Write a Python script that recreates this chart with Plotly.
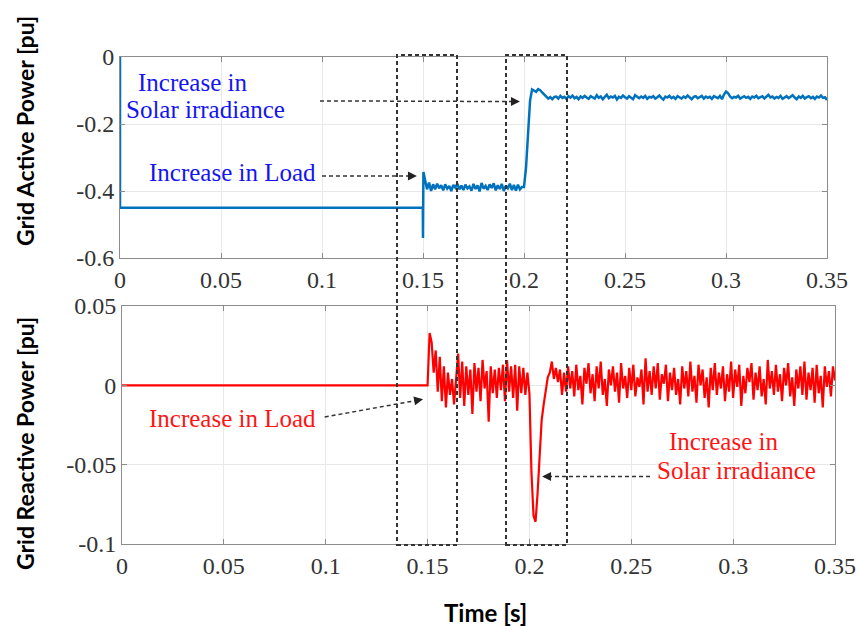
import numpy as np
import plotly.graph_objects as go

# ---------------- data ----------------
# Grid active power (top)
p_head_t = [0.0, 0.0, 0.1499, 0.1500, 0.1502]
p_head_v = [0.0, -0.45, -0.45, -0.54, -0.343]
p_noise_start = 0.151
p_noise_step = 0.001
p_noise_v = [
    -0.365, -0.395, -0.375, -0.400, -0.380, -0.395, -0.378, -0.392, -0.383, -0.398,
    -0.380, -0.393, -0.385, -0.400, -0.382, -0.390, -0.378, -0.395, -0.384, -0.397,
    -0.381, -0.392, -0.386, -0.399, -0.379, -0.394, -0.383, -0.401, -0.376, -0.393,
    -0.385, -0.397, -0.380, -0.391, -0.377, -0.398, -0.383, -0.394, -0.379, -0.400,
    -0.384, -0.392, -0.378, -0.397, -0.382, -0.399, -0.381, -0.395, -0.388, -0.388,
    -0.330, -0.225, -0.130, -0.097, -0.100, -0.104, -0.096, -0.099, -0.106, -0.112,
    -0.118, -0.124, -0.120, -0.126, -0.119,
    -0.118, -0.124, -0.116, -0.122, -0.119,
    -0.125, -0.117, -0.121, -0.115, -0.123, -0.119, -0.126, -0.118, -0.122, -0.116,
    -0.121, -0.125, -0.117, -0.120, -0.124, -0.114, -0.122, -0.118, -0.126, -0.119,
    -0.113, -0.123, -0.118, -0.121, -0.116, -0.127, -0.119, -0.122, -0.115, -0.120,
    -0.124, -0.117, -0.121, -0.126, -0.114, -0.120, -0.123, -0.118, -0.122, -0.116,
    -0.125, -0.119, -0.121, -0.117, -0.124, -0.120, -0.115, -0.122, -0.127, -0.118,
    -0.121, -0.116, -0.123, -0.119, -0.125, -0.117, -0.120, -0.124, -0.118, -0.122,
    -0.115, -0.121, -0.126, -0.119, -0.117, -0.123, -0.120, -0.116, -0.124, -0.118,
    -0.122, -0.119, -0.125, -0.117, -0.120, -0.123, -0.116, -0.126, -0.112, -0.103,
    -0.108, -0.118, -0.123, -0.119, -0.121, -0.116, -0.124, -0.120, -0.117, -0.122,
    -0.119, -0.125, -0.118, -0.121, -0.116, -0.123, -0.120, -0.117, -0.124, -0.119,
    -0.113, -0.121, -0.118, -0.124, -0.119, -0.122, -0.116, -0.125, -0.120, -0.117,
    -0.123, -0.119, -0.114, -0.121, -0.126, -0.118, -0.122, -0.116, -0.124, -0.120,
    -0.117, -0.123, -0.119, -0.125, -0.118, -0.121, -0.115, -0.122, -0.120, -0.128,
]

# Grid reactive power (bottom)
q_head_t = [0.0]
q_head_v = [0.0]
q_noise_start = 0.150
q_noise_step = 0.001
q_noise_v = [
    0.000, 0.033, 0.027, 0.008, 0.022, -0.004, 0.018, -0.010, 0.012, -0.014,
    0.008, -0.006, 0.004, -0.012, 0.006, 0.020, -0.008, 0.015, -0.013, 0.012,
    -0.006, 0.010, -0.018, 0.014, -0.004, 0.011, -0.010, 0.016, -0.002, 0.009,
    -0.023, 0.012, -0.005, 0.010, -0.008, 0.011, -0.003, 0.013, -0.010, 0.016,
    -0.004, 0.012, -0.008, 0.013, -0.016, 0.012, -0.005, 0.011, -0.006, 0.008,
    -0.005, -0.055, -0.082, -0.086, -0.068, -0.040, -0.022, -0.012, -0.003, 0.005,
    0.008, 0.015, 0.004, 0.011, 0.002, 0.010, -0.006, 0.008, -0.004, 0.012, -0.002,
    0.009, -0.007, 0.013, -0.003, 0.006, -0.012, 0.011, 0.001, 0.014, -0.005,
    0.007, -0.010, 0.012, -0.002, 0.015, -0.006, 0.004, -0.013, 0.010, 0.000,
    0.012, -0.004, 0.008, -0.011, 0.014, -0.002, 0.006, -0.008, 0.011, -0.003,
    0.013, -0.007, 0.005, -0.001, 0.010, -0.012, 0.017, -0.004, 0.009, -0.006,
    0.012, -0.002, 0.014, -0.009, 0.007, 0.001, 0.013, -0.010, 0.008, -0.003,
    0.011, -0.006, 0.004, -0.012, 0.012, -0.002, 0.009, -0.007, 0.015, -0.004,
    0.006, -0.011, 0.013, 0.000, 0.010, -0.008, 0.005, -0.014, 0.011, -0.003,
    0.014, -0.006, 0.008, -0.002, 0.012, -0.010, 0.007, -0.004, 0.015, -0.008,
    0.010, -0.001, 0.013, -0.013, 0.006, -0.005, 0.011, 0.002, 0.014, -0.009,
    0.008, -0.003, 0.012, -0.007, 0.004, -0.012, 0.016, -0.002, 0.009, -0.006,
    0.013, -0.004, 0.007, -0.010, 0.011, 0.000, 0.014, -0.007, 0.005, -0.013,
    0.010, -0.002, 0.012, -0.006, 0.015, -0.009, 0.008, -0.003, 0.011, -0.011,
    0.013, -0.005, 0.006, -0.014, 0.012, -0.001, 0.009, -0.007, 0.012, 0.003,
]

x_tickvals = [0, 0.05, 0.1, 0.15, 0.2, 0.25, 0.3, 0.35]
x_ticktext = ["0", "0.05", "0.1", "0.15", "0.2", "0.25", "0.3", "0.35"]
p_tickvals = [0, -0.2, -0.4, -0.6]
p_ticktext = ["0", "-0.2", "-0.4", "-0.6"]
q_tickvals = [0.05, 0, -0.05, -0.1]
q_ticktext = ["0.05", "0", "-0.05", "-0.1"]

# ---------------- build series ----------------
p_t = p_head_t + list(np.round(p_noise_start + p_noise_step * np.arange(len(p_noise_v)), 4))
p_v = p_head_v + p_noise_v
q_t = q_head_t + list(np.round(q_noise_start + q_noise_step * np.arange(len(q_noise_v)), 4))
q_v = q_head_v + q_noise_v

W, H = 859, 626


def px(x):
    return x / W


def py(y):
    return 1 - y / H


fig = go.Figure()
fig.add_trace(go.Scatter(x=p_t, y=p_v, mode="lines", line=dict(color="#0072bd", width=2.5),
                         xaxis="x", yaxis="y", showlegend=False))
fig.add_trace(go.Scatter(x=q_t, y=q_v, mode="lines", line=dict(color="#ff0000", width=2.2),
                         xaxis="x2", yaxis="y2", showlegend=False))

tickfont = dict(family="Liberation Serif", size=24, color="#333333")
axis_common = dict(showline=True, linecolor="#8c8c8c", linewidth=1, mirror="ticks",
                   ticks="inside", ticklen=5, tickcolor="#8c8c8c", showgrid=True,
                   gridcolor="#e8e8e8", zeroline=False, tickfont=tickfont, automargin=False)

fig.update_layout(
    width=W, height=H,
    margin=dict(l=0, r=0, t=0, b=0),
    paper_bgcolor="white", plot_bgcolor="white",
    xaxis=dict(domain=[px(120), px(827)], anchor="y", range=[0, 0.35],
               tickvals=x_tickvals, ticktext=x_ticktext, **axis_common),
    yaxis=dict(domain=[py(258), py(57)], anchor="x", range=[-0.6, 0],
               tickvals=p_tickvals, ticktext=p_ticktext, **axis_common),
    xaxis2=dict(domain=[px(122), px(835)], anchor="y2", range=[0, 0.35],
                tickvals=x_tickvals, ticktext=x_ticktext, **axis_common),
    yaxis2=dict(domain=[py(544), py(306)], anchor="x2", range=[-0.1, 0.05],
                tickvals=q_tickvals, ticktext=q_ticktext, **axis_common),
)

dash_line = dict(color="#333333", width=1.5, dash="4px,3px")
box_line = dict(color="#333333", width=2, dash="4px,3px")
shapes = [
    # dashed boxes spanning both panels
    dict(type="rect", xref="paper", yref="paper", x0=px(397), x1=px(457), y0=py(545), y1=py(55), line=box_line),
    dict(type="rect", xref="paper", yref="paper", x0=px(506), x1=px(567), y0=py(545), y1=py(55), line=box_line),
    # arrow shafts
    dict(type="line", xref="x", yref="y", x0=0.099, y0=-0.131, x1=0.196, y1=-0.133, line=dash_line),
    dict(type="line", xref="x", yref="y", x0=0.1, y0=-0.355, x1=0.146, y1=-0.355, line=dash_line),
    dict(type="line", xref="x2", yref="y2", x0=0.0995, y0=-0.0200, x1=0.146, y1=-0.0092, line=dash_line),
    dict(type="line", xref="x2", yref="y2", x0=0.2592, y0=-0.0575, x1=0.208, y1=-0.0575, line=dash_line),
]
fig.update_layout(shapes=shapes)

blue = "#1414f0"
red = "#ff1414"
txtfont_b = dict(family="Liberation Serif", size=25, color=blue)
txtfont_r = dict(family="Liberation Serif", size=25, color=red)
ann = [
    dict(xref="x", yref="y", x=0.0079, y=-0.075, text="Increase in", showarrow=False,
         xanchor="left", yanchor="middle", font=txtfont_b),
    dict(xref="x", yref="y", x=0.002, y=-0.158, text="Solar irradiance", showarrow=False,
         xanchor="left", yanchor="middle", font=txtfont_b),
    dict(xref="x", yref="y", x=0.098, y=-0.346, text="Increase in Load", showarrow=False,
         xanchor="right", yanchor="middle", font=txtfont_b),
    dict(xref="x2", yref="y2", x=0.0962, y=-0.0206, text="Increase in Load", showarrow=False,
         xanchor="right", yanchor="middle", font=txtfont_r),
    dict(xref="x2", yref="y2", x=0.2955, y=-0.0357, text="Increase in", showarrow=False,
         xanchor="center", yanchor="middle", font=txtfont_r),
    dict(xref="x2", yref="y2", x=0.3017, y=-0.0534, text="Solar irradiance", showarrow=False,
         xanchor="center", yanchor="middle", font=txtfont_r),
    # arrow heads
    dict(xref="x", yref="y", x=0.198, y=-0.133, text="", showarrow=True, ax=-8, ay=0,
         arrowhead=2, arrowsize=1.2, arrowwidth=1.5, arrowcolor="#222222"),
    dict(xref="x", yref="y", x=0.147, y=-0.355, text="", showarrow=True, ax=-8, ay=0,
         arrowhead=2, arrowsize=1.2, arrowwidth=1.5, arrowcolor="#222222"),
    dict(xref="x2", yref="y2", x=0.1478, y=-0.0087, text="", showarrow=True, ax=-8, ay=1.5,
         arrowhead=2, arrowsize=1.2, arrowwidth=1.5, arrowcolor="#222222"),
    dict(xref="x2", yref="y2", x=0.2062, y=-0.0575, text="", showarrow=True, ax=8, ay=0,
         arrowhead=2, arrowsize=1.2, arrowwidth=1.5, arrowcolor="#222222"),
    # axis titles
    dict(xref="paper", yref="paper", x=px(25), y=py(131), text="<b>Grid Active Power [pu]</b>",
         textangle=-90, showarrow=False, xanchor="center", yanchor="middle",
         font=dict(family="Lato", size=23, color="black")),
    dict(xref="paper", yref="paper", x=px(25), y=py(444), text="<b>Grid Reactive Power [pu]</b>",
         textangle=-90, showarrow=False, xanchor="center", yanchor="middle",
         font=dict(family="Lato", size=23, color="black")),
    dict(xref="paper", yref="paper", x=px(485), y=py(612), text="<b>Time [s]</b>",
         showarrow=False, xanchor="center", yanchor="middle",
         font=dict(family="Lato", size=24, color="black")),
]
fig.update_layout(annotations=ann)

fig.write_html("out.html")
